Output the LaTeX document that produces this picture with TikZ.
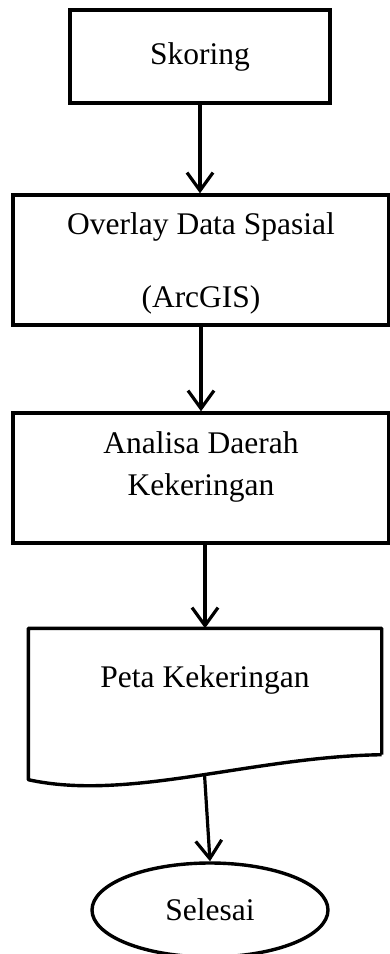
\documentclass[tikz,border=0pt]{standalone}
\usepackage{fontspec}
\setmainfont{Liberation Serif}
\usetikzlibrary{arrows.meta,shapes.geometric,positioning,calc}

\begin{document}
\begin{tikzpicture}[x=1pt,y=-1pt,
    >={Straight Barb[length=18pt,width=26pt]},
    box/.style={draw,line width=3.4pt,align=center,inner sep=0pt,
                font=\fontsize{31.5}{38}\selectfont},
    flow/.style={->,line width=3.2pt},
  ]
  \useasboundingbox (0,0) rectangle (390,954);
  \node[box,minimum width=260pt,minimum height=93pt] (skor) at (200,56.5) {Skoring};
  \node[box,minimum width=376pt,minimum height=130pt,text depth=0pt] (ovl) at (201,260)
    {Overlay Data Spasial\\[35pt](ArcGIS)};
  \node[box,minimum width=376pt,minimum height=130pt,text depth=29pt] (anl) at (201,478)
    {Analisa Daerah\\[4pt]Kekeringan};
  \node[box,draw=none,minimum width=350pt,minimum height=123pt,text depth=29pt] (peta) at (205,691.5)
    {Peta Kekeringan};
  \draw[line width=3.4pt,line join=round] (peta.south east) -- (peta.north east) -- (peta.north west)
    -- ($(peta.south west)+(0,25)$) .. controls +(100,22) and +(-130,2) .. (peta.south east)
    coordinate[pos=0.53] (wave);
  \node[box,ellipse,minimum width=236pt,minimum height=94pt] (sls) at (210,910) {Selesai};
  \draw[flow] (skor.south) -- (skor.south |- ovl.north);
  \draw[flow] (ovl.south) -- (anl.north);
  \draw[flow] (anl.south -| peta.north) -- (peta.north);
  \draw[flow] (wave) -- (sls.north);
\end{tikzpicture}
\end{document}
